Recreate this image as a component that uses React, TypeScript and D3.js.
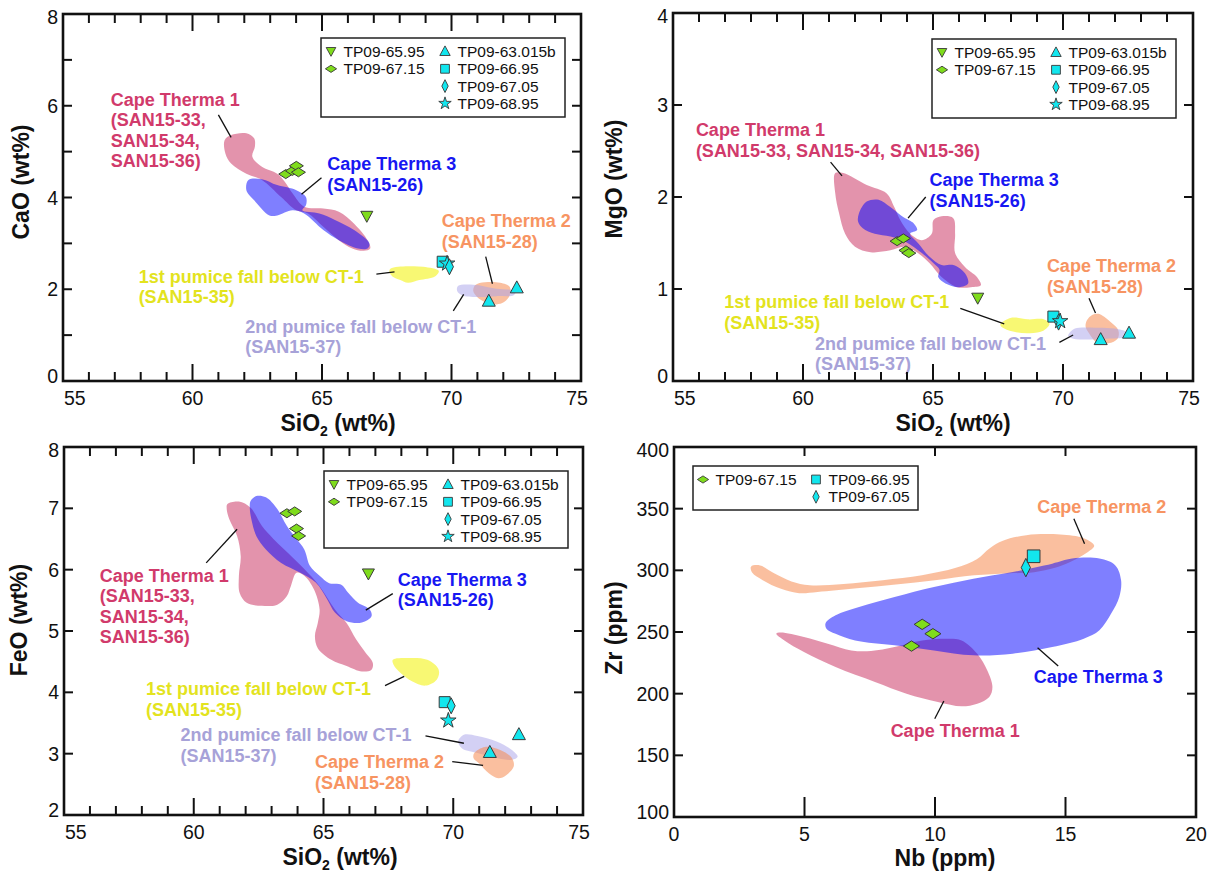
import React from "react";
import * as d3 from "d3";

type Pt = [number, number];

// ---------- CaO vs SiO2 ----------
const caoCT1: Pt[] = [[61.24,5.25],[61.49,5.36],[62.08,5.40],[62.38,5.29],[62.41,5.11],[62.31,4.89],[62.68,4.67],[63.27,4.52],[63.57,4.34],[63.86,4.09],[64.31,3.80],[65.05,3.76],[65.65,3.69],[66.24,3.43],[66.76,3.07],[66.86,2.89],[66.61,2.84],[66.17,2.89],[65.65,3.07],[65.05,3.36],[64.46,3.65],[64.01,3.72],[63.42,4.01],[62.68,4.38],[62.08,4.52],[61.49,4.74],[61.27,4.96]];
const caoCT3: Pt[] = [[62.16,4.38],[62.68,4.40],[63.27,4.27],[64.01,4.16],[64.38,4.01],[64.38,3.83],[64.24,3.72],[64.9,3.65],[65.5,3.51],[66.24,3.29],[66.83,3.0],[66.76,2.89],[66.39,2.89],[65.65,3.07],[65.05,3.29],[64.31,3.65],[63.86,3.72],[63.27,3.61],[62.97,3.61],[62.38,3.94],[62.08,4.16]];
const caoCT2: Pt[] = [[70.92,2.09],[71.29,2.15],[71.88,2.14],[72.25,2.05],[72.25,1.87],[72.03,1.72],[71.73,1.67],[71.29,1.72],[70.99,1.83],[70.84,1.96]];
const caoP1: Pt[] = [[67.65,2.45],[68.32,2.50],[68.91,2.49],[69.51,2.40],[69.36,2.28],[68.76,2.20],[68.32,2.14],[68.02,2.20],[67.72,2.28],[67.6,2.38]];
const caoP2: Pt[] = [[70.25,2.07],[70.84,2.10],[71.73,2.01],[72.48,1.96],[72.40,1.87],[71.73,1.85],[70.99,1.83],[70.40,1.87],[70.22,1.96]];
const caoSamples: { id: string; pts: Pt[] }[] = [
  { id: "TP09-65.95", pts: [[66.73, 3.59]] },
  { id: "TP09-67.15", pts: [[63.6, 4.51], [63.86, 4.58], [64.01, 4.69], [64.09, 4.55]] },
  { id: "TP09-63.015b", pts: [[71.44, 1.74], [72.52, 2.03]] },
  { id: "TP09-66.95", pts: [[69.66, 2.6]] },
  { id: "TP09-68.95", pts: [[69.83, 2.56]] },
  { id: "TP09-67.05", pts: [[69.92, 2.49]] },
];

// ---------- MgO vs SiO2 ----------
const mgoCT1: Pt[] = [[61.24,2.26],[61.55,2.26],[62.45,2.13],[63.21,2.04],[63.51,1.89],[63.74,1.75],[64.12,1.60],[64.57,1.53],[64.95,1.60],[65.02,1.75],[65.33,1.79],[65.78,1.77],[65.85,1.60],[65.85,1.39],[66.23,1.24],[66.69,1.13],[66.84,1.04],[66.46,1.02],[65.93,1.02],[65.33,1.13],[64.87,1.28],[64.42,1.39],[63.96,1.46],[63.36,1.42],[62.6,1.40],[62.0,1.46],[61.62,1.60],[61.39,1.82],[61.24,2.04]];
const mgoCT3: Pt[] = [[62.15,1.82],[62.45,1.95],[62.91,1.97],[63.36,1.89],[63.81,1.79],[64.27,1.71],[64.39,1.64],[64.12,1.60],[64.42,1.50],[64.87,1.35],[65.33,1.26],[65.78,1.26],[66.23,1.17],[66.35,1.06],[66.0,1.02],[65.48,1.06],[65.2,1.13],[65.25,1.21],[65.02,1.28],[64.57,1.39],[63.96,1.51],[63.36,1.57],[62.76,1.60],[62.3,1.66],[62.12,1.73]];
const mgoCT2: Pt[] = [[70.92,0.66],[71.14,0.72],[71.37,0.73],[71.83,0.64],[72.13,0.55],[72.1,0.46],[71.75,0.41],[71.3,0.42],[71.0,0.52],[70.87,0.59]];
const mgoP1: Pt[] = [[67.67,0.64],[68.05,0.69],[68.65,0.67],[69.26,0.67],[69.48,0.62],[69.26,0.55],[68.73,0.52],[68.2,0.53],[67.74,0.57],[67.59,0.61]];
const mgoP2: Pt[] = [[70.24,0.52],[70.46,0.57],[71.22,0.58],[71.98,0.57],[72.43,0.53],[72.4,0.48],[71.67,0.46],[70.92,0.45],[70.39,0.46],[70.2,0.49]];
const mgoSamples: { id: string; pts: Pt[] }[] = [
  { id: "TP09-65.95", pts: [[66.72, 0.9]] },
  { id: "TP09-67.15", pts: [[63.62, 1.52], [63.86, 1.55], [63.96, 1.42], [64.07, 1.39]] },
  { id: "TP09-63.015b", pts: [[71.45, 0.45], [72.54, 0.52]] },
  { id: "TP09-66.95", pts: [[69.63, 0.7]] },
  { id: "TP09-67.05", pts: [[69.83, 0.64]] },
  { id: "TP09-68.95", pts: [[69.89, 0.65]] },
];

// ---------- FeO vs SiO2 ----------
const feoCT1: Pt[] = [[61.3,7.07],[61.74,7.11],[62.19,7.01],[62.63,6.71],[63.07,6.50],[63.81,6.20],[64.26,6.01],[64.85,5.73],[65.44,5.35],[65.89,5.13],[66.26,4.86],[66.63,4.64],[66.9,4.48],[66.85,4.37],[66.48,4.34],[65.89,4.43],[65.3,4.53],[64.78,4.72],[64.67,4.92],[64.78,5.13],[64.85,5.35],[64.63,5.68],[64.26,5.90],[63.96,5.95],[63.74,5.73],[63.59,5.57],[63.22,5.43],[62.63,5.41],[62.04,5.46],[61.77,5.62],[61.74,5.90],[61.81,6.22],[61.67,6.55],[61.37,6.82],[61.27,6.99]];
const feoCT3: Pt[] = [[62.19,7.12],[62.41,7.20],[62.78,7.18],[63.22,6.99],[63.59,6.71],[63.96,6.50],[64.26,6.33],[64.48,6.06],[64.85,5.90],[65.22,5.78],[65.67,5.76],[65.96,5.62],[66.33,5.46],[66.78,5.35],[66.85,5.24],[66.48,5.14],[65.89,5.16],[65.44,5.30],[65.15,5.51],[64.7,5.79],[64.11,5.95],[63.37,6.11],[62.78,6.33],[62.41,6.55],[62.22,6.82],[62.16,7.01]];
const feoCT2: Pt[] = [[70.81,3.01],[71.22,3.11],[71.81,3.06],[72.26,2.93],[72.33,2.79],[72.04,2.65],[71.74,2.60],[71.37,2.68],[71.0,2.84],[70.78,2.93]];
const feoP1: Pt[] = [[67.67,4.53],[68.26,4.56],[69.0,4.53],[69.44,4.37],[69.37,4.21],[68.93,4.11],[68.41,4.18],[67.96,4.32],[67.7,4.45]];
const feoP2: Pt[] = [[70.19,3.20],[70.41,3.31],[70.93,3.29],[71.67,3.20],[72.26,3.06],[72.48,2.95],[72.26,2.90],[71.67,2.93],[70.93,3.01],[70.33,3.09]];
const feoSamples: { id: string; pts: Pt[] }[] = [
  { id: "TP09-65.95", pts: [[66.73, 5.93]] },
  { id: "TP09-67.15", pts: [[63.59, 6.92], [63.89, 6.95], [63.96, 6.67], [64.04, 6.55]] },
  { id: "TP09-63.015b", pts: [[71.41, 3.02], [72.53, 3.31]] },
  { id: "TP09-66.95", pts: [[69.67, 3.84]] },
  { id: "TP09-67.05", pts: [[69.92, 3.78]] },
  { id: "TP09-68.95", pts: [[69.81, 3.54]] },
];

// ---------- Zr vs Nb ----------
const zrCT2: Pt[] = [[2.95,303],[3.3,304],[3.8,298],[4.5,291],[5.2,288],[6.5,289],[8,292],[9.5,296],[10.8,302],[11.6,309],[12.1,318],[12.6,324],[13.5,328.5],[14.8,329],[15.7,326],[16.1,320],[15.8,314],[15.2,307],[14.6,302],[13.8,298.5],[12.8,297.5],[11.5,296],[10,292],[8.5,288.5],[7,285.5],[5.5,282.5],[4.8,281.5],[4.1,285],[3.4,292],[3.0,298]];
const zrCT3: Pt[] = [[5.81,257.3],[6.19,263.5],[7.09,270.3],[8.45,278.4],[9.96,286.5],[11.47,293.2],[12.98,298.6],[14.49,305.4],[15.25,309.5],[16.3,309.5],[16.91,304],[17.13,291.9],[17.06,278.4],[16.75,264.9],[16.3,251.4],[15.7,244.6],[14.49,237.8],[12.98,232.4],[11.47,231.1],[9.96,235.1],[8.45,239.2],[6.94,243.2],[6.19,248.6],[5.84,252.7]];
const zrCT1: Pt[] = [[3.92,248.6],[4.08,249.5],[4.98,245.9],[5.89,240.5],[6.79,235.1],[7.55,234.6],[8.45,237.8],[9.51,243.2],[10.42,244.6],[11.02,243.2],[11.62,232.4],[12.0,218.9],[12.2,205.4],[12.08,197.3],[11.62,191.9],[11.02,189.7],[10.11,193.2],[8.91,200],[7.7,209.5],[6.19,221.6],[4.98,233.8],[4.23,243.2]];
const zrSamples: { id: string; pts: Pt[] }[] = [
  { id: "TP09-67.15", pts: [[9.51, 256.2], [9.92, 248.6], [9.1, 238.6]] },
  { id: "TP09-67.05", pts: [[13.48, 302.2]] },
  { id: "TP09-66.95", pts: [[13.78, 311.4]] },
];

// ---------- axis ticks ----------
const sio2TickLabels = [55, 60, 65, 70, 75];
const sio2MinorTicks = d3.range(56, 75);
const caoTickLabels = [0, 2, 4, 6, 8];
const caoTicks = [1, 2, 3, 4, 5, 6, 7];
const mgoTickLabels = [0, 1, 2, 3, 4];
const mgoTicks = [1, 2, 3];
const feoTickLabels = [2, 3, 4, 5, 6, 7, 8];
const feoTicks = [3, 4, 5, 6, 7];
const nbTickLabels = [0, 5, 10, 15, 20];
const nbTicks = [5, 10, 15];
const zrTickLabels = [100, 150, 200, 250, 300, 350, 400];
const zrTicks = [150, 200, 250, 300, 350];

// ---------- styling ----------
const FONT = "'Liberation Sans', Arial, Helvetica, sans-serif";
const GREEN = "#7fdc1c";
const CYAN = "#12e6ee";
const C = {
  ct1: { fill: "#c8285a", op: 0.5, text: "#d13a6b" },
  ct3: { fill: "#0000ff", op: 0.5, text: "#1717f2" },
  ct2: { fill: "#f58a50", op: 0.55, text: "#f79462" },
  p1: { fill: "#f2f200", op: 0.55, text: "#e3e31e" },
  p2: { fill: "#a8a2ea", op: 0.5, text: "#a7a2d8" },
};

type SymKind = "triDown" | "triUp" | "diamondWide" | "diamondTall" | "square" | "star";
const sampleStyle: Record<string, { kind: SymKind; color: string }> = {
  "TP09-65.95": { kind: "triDown", color: GREEN },
  "TP09-67.15": { kind: "diamondWide", color: GREEN },
  "TP09-63.015b": { kind: "triUp", color: CYAN },
  "TP09-66.95": { kind: "square", color: CYAN },
  "TP09-67.05": { kind: "diamondTall", color: CYAN },
  "TP09-68.95": { kind: "star", color: CYAN },
};

function symbolPath(kind: SymKind, s: number): string {
  switch (kind) {
    case "triDown":
      return `M${-6 * s},${-5 * s}L${6 * s},${-5 * s}L0,${6 * s}Z`;
    case "triUp":
      return `M${-6.5 * s},${5 * s}L${6.5 * s},${5 * s}L0,${-7 * s}Z`;
    case "diamondWide":
      return `M${-7 * s},0L0,${-4.5 * s}L${7 * s},0L0,${4.5 * s}Z`;
    case "diamondTall":
      return `M${-4 * s},0L0,${-8 * s}L${4 * s},0L0,${8 * s}Z`;
    case "square":
      return `M${-5.5 * s},${-5.5 * s}h${11 * s}v${11 * s}h${-11 * s}Z`;
    case "star":
      return d3.symbol().type(d3.symbolStar).size(75 * s * s)() as string;
  }
}

type Field = { pts: Pt[]; style: { fill: string; op: number } };
type Label = { lines: string[]; color: string; at: Pt; lead: [Pt, Pt] };
type LegendItem = { id: string; col: number; row: number };

interface PanelCfg {
  key: string;
  left: number; right: number; top: number; bottom: number;
  xDomain: [number, number]; yDomain: [number, number];
  xLabels: number[]; xMajor: number[]; xMinor: number[];
  yLabels: number[]; yTicks: number[];
  xMajorLen: number; xMajorTopLen: number;
  xTitle: "sio2" | "nb"; yTitle: string;
  xTitleX: number; xTitleY: number; yTitleX: number; yTitleY: number;
  fields: Field[];
  samples: { id: string; pts: Pt[] }[];
  symScale: number;
  labels: Label[];
  legend: { dx: number; dy: number; w: number; h: number; items: LegendItem[]; col2: number };
  edgeLabels: boolean;
}

const sio2Legend: LegendItem[] = [
  { id: "TP09-65.95", col: 0, row: 0 },
  { id: "TP09-67.15", col: 0, row: 1 },
  { id: "TP09-63.015b", col: 1, row: 0 },
  { id: "TP09-66.95", col: 1, row: 1 },
  { id: "TP09-67.05", col: 1, row: 2 },
  { id: "TP09-68.95", col: 1, row: 3 },
];
const nbLegend: LegendItem[] = [
  { id: "TP09-67.15", col: 0, row: 0 },
  { id: "TP09-66.95", col: 1, row: 0 },
  { id: "TP09-67.05", col: 1, row: 1 },
];

const panels: PanelCfg[] = [
  {
    key: "cao", left: 63, right: 581, top: 14, bottom: 381,
    xDomain: [55, 75], yDomain: [0, 8],
    xLabels: sio2TickLabels, xMajor: [60, 65, 70], xMinor: sio2MinorTicks,
    yLabels: caoTickLabels, yTicks: caoTicks, xMajorLen: 17, xMajorTopLen: 17,
    xTitle: "sio2", yTitle: "CaO (wt%)", xTitleX: 338, xTitleY: 431, yTitleX: 21, yTitleY: 182,
    fields: [
      { pts: caoCT1, style: C.ct1 }, { pts: caoCT3, style: C.ct3 }, { pts: caoCT2, style: C.ct2 },
      { pts: caoP1, style: C.p1 }, { pts: caoP2, style: C.p2 },
    ],
    samples: caoSamples, symScale: 1,
    labels: [
      { lines: ["Cape Therma 1", "(SAN15-33,", "SAN15-34,", "SAN15-36)"], color: C.ct1.text, at: [56.84, 6.14], lead: [[61.0, 5.8], [61.49, 5.31]] },
      { lines: ["Cape Therma 3", "(SAN15-26)"], color: C.ct3.text, at: [65.2, 4.74], lead: [[64.98, 4.43], [64.21, 4.07]] },
      { lines: ["Cape Therma 2", "(SAN15-28)"], color: C.ct2.text, at: [69.62, 3.49], lead: [[71.32, 2.71], [71.58, 2.12]] },
      { lines: ["1st pumice fall below CT-1", "(SAN15-35)"], color: C.p1.text, at: [57.92, 2.28], lead: [[67.1, 2.33], [67.8, 2.38]] },
      { lines: ["2nd pumice fall below CT-1", "(SAN15-37)"], color: C.p2.text, at: [62.04, 1.19], lead: [[70.07, 1.53], [70.47, 1.89]] },
    ],
    legend: { dx: 258, dy: 24, w: 244, h: 79, items: sio2Legend, col2: 114 },
    edgeLabels: true,
  },
  {
    key: "mgo", left: 673, right: 1193, top: 13, bottom: 381,
    xDomain: [55, 75], yDomain: [0, 4],
    xLabels: sio2TickLabels, xMajor: [60, 65, 70], xMinor: sio2MinorTicks,
    yLabels: mgoTickLabels, yTicks: mgoTicks, xMajorLen: 17, xMajorTopLen: 17,
    xTitle: "sio2", yTitle: "MgO (wt%)", xTitleX: 953, xTitleY: 431, yTitleX: 614, yTitleY: 179,
    fields: [
      { pts: mgoCT1, style: C.ct1 }, { pts: mgoCT3, style: C.ct3 }, { pts: mgoCT2, style: C.ct2 },
      { pts: mgoP1, style: C.p1 }, { pts: mgoP2, style: C.p2 },
    ],
    samples: mgoSamples, symScale: 1,
    labels: [
      { lines: ["Cape Therma 1", "(SAN15-33, SAN15-34, SAN15-36)"], color: C.ct1.text, at: [55.88, 2.73], lead: [[61.06, 2.38], [61.5, 2.23]] },
      { lines: ["Cape Therma 3", "(SAN15-26)"], color: C.ct3.text, at: [64.87, 2.19], lead: [[64.72, 2.0], [64.04, 1.77]] },
      { lines: ["Cape Therma 2", "(SAN15-28)"], color: C.ct2.text, at: [69.38, 1.25], lead: [[71.0, 0.9], [71.25, 0.74]] },
      { lines: ["1st pumice fall below CT-1", "(SAN15-35)"], color: C.p1.text, at: [56.97, 0.86], lead: [[66.05, 0.79], [67.74, 0.62]] },
      { lines: ["2nd pumice fall below CT-1", "(SAN15-37)"], color: C.p2.text, at: [60.46, 0.41], lead: [[69.86, 0.42], [70.39, 0.5]] },
    ],
    legend: { dx: 259, dy: 26, w: 244, h: 79, items: sio2Legend, col2: 114 },
    edgeLabels: true,
  },
  {
    key: "feo", left: 64, right: 583, top: 447, bottom: 815,
    xDomain: [55, 75], yDomain: [2, 8],
    xLabels: sio2TickLabels, xMajor: [60, 65, 70], xMinor: sio2MinorTicks,
    yLabels: feoTickLabels, yTicks: feoTicks, xMajorLen: 17, xMajorTopLen: 17,
    xTitle: "sio2", yTitle: "FeO (wt%)", xTitleX: 340, xTitleY: 865, yTitleX: 19, yTitleY: 620,
    fields: [
      { pts: feoCT1, style: C.ct1 }, { pts: feoCT3, style: C.ct3 }, { pts: feoP2, style: C.p2 },
      { pts: feoCT2, style: C.ct2 }, { pts: feoP1, style: C.p1 },
    ],
    samples: feoSamples, symScale: 1,
    labels: [
      { lines: ["Cape Therma 1", "(SAN15-33,", "SAN15-34,", "SAN15-36)"], color: C.ct1.text, at: [56.38, 5.91], lead: [[60.48, 6.11], [61.67, 6.66]] },
      { lines: ["Cape Therma 3", "(SAN15-26)"], color: C.ct3.text, at: [67.86, 5.84], lead: [[67.67, 5.61], [66.63, 5.34]] },
      { lines: ["1st pumice fall below CT-1", "(SAN15-35)"], color: C.p1.text, at: [58.16, 4.06], lead: [[67.37, 4.11], [68.11, 4.26]] },
      { lines: ["2nd pumice fall below CT-1", "(SAN15-37)"], color: C.p2.text, at: [59.49, 3.31], lead: [[68.93, 3.29], [70.41, 3.17]] },
      { lines: ["Cape Therma 2", "(SAN15-28)"], color: C.ct2.text, at: [64.67, 2.87], lead: [[69.96, 2.87], [71.15, 2.81]] },
    ],
    legend: { dx: 260, dy: 24, w: 244, h: 77, items: sio2Legend, col2: 114 },
    edgeLabels: true,
  },
  {
    key: "zr", left: 674, right: 1196, top: 447, bottom: 817,
    xDomain: [0, 20], yDomain: [100, 400],
    xLabels: nbTickLabels, xMajor: nbTicks, xMinor: [],
    yLabels: zrTickLabels, yTicks: zrTicks, xMajorLen: 20, xMajorTopLen: 9,
    xTitle: "nb", yTitle: "Zr (ppm)", xTitleX: 945, xTitleY: 866, yTitleX: 614, yTitleY: 628,
    fields: [
      { pts: zrCT2, style: C.ct2 }, { pts: zrCT1, style: C.ct1 }, { pts: zrCT3, style: C.ct3 },
    ],
    samples: zrSamples, symScale: 1.15,
    labels: [
      { lines: ["Cape Therma 2"], color: C.ct2.text, at: [13.92, 351.9], lead: [[15.32, 341.9], [15.73, 321.6]] },
      { lines: ["Cape Therma 3"], color: C.ct3.text, at: [13.78, 214], lead: [[14.72, 222.4], [13.93, 237.3]] },
      { lines: ["Cape Therma 1"], color: C.ct1.text, at: [8.3, 170.3], lead: [[9.99, 179.7], [10.34, 194]] },
    ],
    legend: { dx: 19, dy: 19, w: 225, h: 44, items: nbLegend, col2: 113 },
    edgeLabels: false,
  },
];

const TICK_FS = 19.5;
const LABEL_FS = 18;
const TITLE_FS = 23;
const LEGEND_FS = 15.5;
const LINE_H = 20.5;

function Panel({ cfg }: { cfg: PanelCfg }) {
  const x = d3.scaleLinear().domain(cfg.xDomain).range([cfg.left, cfg.right]);
  const y = d3.scaleLinear().domain(cfg.yDomain).range([cfg.bottom, cfg.top]);
  const area = d3
    .line<Pt>()
    .x((d) => x(d[0]))
    .y((d) => y(d[1]))
    .curve(d3.curveCatmullRomClosed.alpha(0.5));
  const clipId = `clip-${cfg.key}`;
  const { left, right, top, bottom } = cfg;
  const minorLen = 9;
  const yTickLen = 9;
  const lg = cfg.legend;
  const lgX = left + lg.dx;
  const lgY = top + lg.dy;

  return (
    <g>
      <defs>
        <clipPath id={clipId}>
          <rect x={left} y={top} width={right - left} height={bottom - top} />
        </clipPath>
      </defs>

      {/* compositional fields */}
      <g clipPath={`url(#${clipId})`}>
        {cfg.fields.map((f, i) => (
          <path key={i} d={area(f.pts) as string} fill={f.style.fill} fillOpacity={f.style.op} stroke="none" />
        ))}
      </g>

      {/* leader lines */}
      {cfg.labels.map((l, i) => (
        <line key={i} x1={x(l.lead[0][0])} y1={y(l.lead[0][1])} x2={x(l.lead[1][0])} y2={y(l.lead[1][1])} stroke="#111" strokeWidth={1.3} />
      ))}

      {/* field labels */}
      {cfg.labels.map((l, i) => (
        <text key={i} fontFamily={FONT} fontWeight="bold" fontSize={LABEL_FS} fill={l.color}>
          {l.lines.map((t, j) => (
            <tspan key={j} x={x(l.at[0])} y={y(l.at[1]) + j * LINE_H + LABEL_FS * 0.36}>
              {t}
            </tspan>
          ))}
        </text>
      ))}

      {/* analysed samples */}
      {cfg.samples.map((s) =>
        s.pts.map((p, j) => (
          <path
            key={`${s.id}-${j}`}
            d={symbolPath(sampleStyle[s.id].kind, cfg.symScale)}
            transform={`translate(${x(p[0])},${y(p[1])})`}
            fill={sampleStyle[s.id].color}
            stroke="#3a3a3a"
            strokeWidth={1}
          />
        ))
      )}

      {/* legend */}
      <rect x={lgX} y={lgY} width={lg.w} height={lg.h} fill="#fff" stroke="#222" strokeWidth={1.5} />
      {lg.items.map((it) => {
        const sx = lgX + 10 + it.col * lg.col2;
        const sy = lgY + 13.5 + it.row * 17.3;
        return (
          <g key={it.id}>
            <path
              d={symbolPath(sampleStyle[it.id].kind, 0.8)}
              transform={`translate(${sx},${sy})`}
              fill={sampleStyle[it.id].color}
              stroke="#3a3a3a"
              strokeWidth={0.9}
            />
            <text x={sx + 12.5} y={sy + LEGEND_FS * 0.36} fontFamily={FONT} fontSize={LEGEND_FS} fill="#111">
              {it.id}
            </text>
          </g>
        );
      })}

      {/* ticks */}
      <g stroke="#111" strokeWidth={2}>
        {cfg.xMinor.filter((v) => !cfg.xMajor.includes(v) && !cfg.xLabels.includes(v)).map((v) => (
          <g key={`xm${v}`}>
            <line x1={x(v)} x2={x(v)} y1={bottom} y2={bottom - minorLen} />
            <line x1={x(v)} x2={x(v)} y1={top} y2={top + minorLen} />
          </g>
        ))}
        {cfg.xMajor.map((v) => (
          <g key={`xM${v}`}>
            <line x1={x(v)} x2={x(v)} y1={bottom} y2={bottom - cfg.xMajorLen} />
            <line x1={x(v)} x2={x(v)} y1={top} y2={top + cfg.xMajorTopLen} />
          </g>
        ))}
        {cfg.yTicks.map((v) => (
          <g key={`y${v}`}>
            <line x1={left} x2={left + yTickLen} y1={y(v)} y2={y(v)} />
            <line x1={right} x2={right - yTickLen} y1={y(v)} y2={y(v)} />
          </g>
        ))}
      </g>

      {/* frame */}
      <rect x={left} y={top} width={right - left} height={bottom - top} fill="none" stroke="#111" strokeWidth={2.6} />

      {/* tick labels */}
      {cfg.xLabels.map((v, i) => {
        let tx = x(v);
        let anchor: "start" | "middle" = "middle";
        if (cfg.edgeLabels && i === 0) {
          tx = left + 1;
          anchor = "start";
        } else if (cfg.edgeLabels && i === cfg.xLabels.length - 1) {
          tx = x(v) - 4;
        }
        return (
          <text key={`xl${v}`} x={tx} y={bottom + 24} textAnchor={anchor} fontFamily={FONT} fontSize={TICK_FS} fill="#111">
            {v}
          </text>
        );
      })}
      {cfg.yLabels.map((v) => {
        const cy = Math.min(Math.max(y(v), top + 3), bottom - 5);
        return (
          <text key={`yl${v}`} x={left - 5} y={cy + TICK_FS * 0.36} textAnchor="end" fontFamily={FONT} fontSize={TICK_FS} fill="#111">
            {v}
          </text>
        );
      })}

      {/* axis titles */}
      <text x={cfg.xTitleX} y={cfg.xTitleY} textAnchor="middle" fontFamily={FONT} fontWeight="bold" fontSize={TITLE_FS} fill="#111">
        {cfg.xTitle === "sio2" ? (
          <>
            <tspan>SiO</tspan>
            <tspan fontSize={14} dy={5}>2</tspan>
            <tspan dy={-5}> (wt%)</tspan>
          </>
        ) : (
          "Nb (ppm)"
        )}
      </text>
      <text
        transform={`translate(${cfg.yTitleX},${cfg.yTitleY}) rotate(-90)`}
        textAnchor="middle"
        dy="0.36em"
        fontFamily={FONT}
        fontWeight="bold"
        fontSize={TITLE_FS}
        fill="#111"
      >
        {cfg.yTitle}
      </text>
    </g>
  );
}

export default function App() {
  return (
    <svg
      width={1211}
      height={877}
      viewBox="0 0 1211 877"
      style={{ position: "absolute", left: 0, top: 0, background: "#fff" }}
    >
      <rect width={1211} height={877} fill="#fff" />
      {panels.map((p) => (
        <Panel key={p.key} cfg={p} />
      ))}
    </svg>
  );
}
